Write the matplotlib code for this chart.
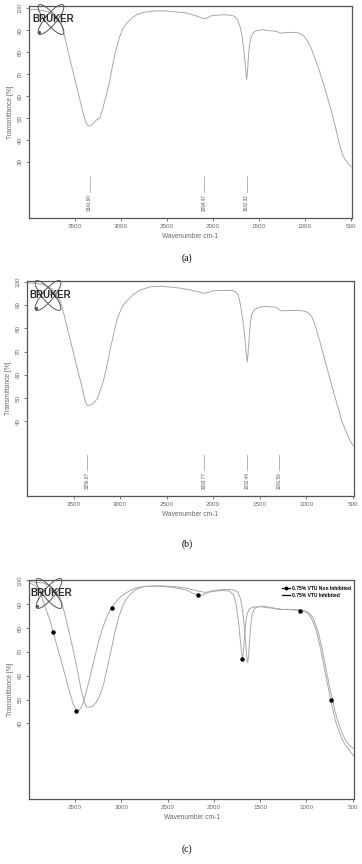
import matplotlib
matplotlib.use("Agg")
import matplotlib.pyplot as plt
from matplotlib.patches import Ellipse
from matplotlib.lines import Line2D

plt.rcParams['font.family'] = ['Liberation Sans', 'DejaVu Sans']

# ---- panel (a) spectrum ----
wn_a = [3995, 3900, 3800, 3720, 3680, 3650, 3600, 3550, 3500, 3450, 3410, 3380, 3360, 3341,
        3300, 3270, 3230, 3200, 3160, 3120, 3095, 3060, 3018, 2980, 2940, 2880, 2830, 2760,
        2690, 2600, 2503, 2400, 2285, 2200, 2140, 2094, 2060, 2020, 1956, 1880, 1800, 1760,
        1726, 1700, 1682, 1665, 1650, 1640, 1632, 1622, 1612, 1600, 1585, 1565, 1540, 1500,
        1452, 1400, 1340, 1300, 1270, 1250, 1200, 1140, 1080, 1040, 1014, 980, 937, 900, 860,
        828, 780, 740, 718, 685, 660, 630, 608, 580, 550, 520, 495]
t_a = [99.5, 99.3, 98.5, 96.5, 94.5, 93.5, 85, 76, 67.5, 59, 52, 48, 46.6, 46.3,
       47.5, 49, 50, 54, 60, 67, 73, 80, 86.5, 90.5, 93, 95.5, 97, 98,
       98.5, 98.8, 98.7, 98.3, 97.8, 96.8, 95.8, 95.3, 95.5, 96.5, 96.8, 97, 96.8, 96.2,
       94.5, 91, 87.5, 82, 76, 71, 67.5, 71, 78, 83.5, 86.5, 88.5, 89.5, 90,
       90.2, 89.8, 89.6, 89.4, 88.7, 88.7, 88.9, 89, 88.9, 88.3, 87.5, 85.8, 82.5, 78.5, 74,
       70, 63.5, 57.5, 54.5, 49, 45, 39.5, 36, 32.5, 30.5, 29, 27.8]
peaks_a = [3341.60, 2094.47, 1632.32]

# ---- panel (b) spectrum ----
wn_b = [3995, 3900, 3800, 3720, 3680, 3640, 3600, 3560, 3532, 3480, 3425, 3390, 3370, 3356,
        3330, 3300, 3260, 3243, 3210, 3178, 3140, 3103, 3060, 3028, 2995, 2964, 2910, 2857,
        2780, 2675, 2550, 2450, 2350, 2250, 2170, 2120, 2093, 2060, 2000, 1957, 1880, 1785,
        1760, 1731, 1705, 1678, 1660, 1645, 1632, 1622, 1610, 1598, 1580, 1555, 1530, 1500,
        1464, 1400, 1340, 1314, 1292, 1270, 1200, 1100, 1040, 992, 960, 938, 900, 853, 800,
        746, 700, 660, 640, 620, 590, 564, 530, 500, 490]
t_b = [99.5, 99.3, 98.5, 96.5, 94, 91.5, 85.5, 79, 74.5, 66, 57.4, 51.5, 48.5, 47,
       46.8, 47.5, 49, 50, 53.5, 57.5, 64, 71.5, 79, 84.3, 87.5, 90, 92.5, 94.5,
       96.5, 97.8, 98, 97.7, 97.2, 96.5, 95.8, 95.2, 95, 95.3, 96, 96.2, 96.3, 96.2,
       95.6, 94.5, 90, 83, 76.5, 70, 65.5, 70, 77, 83, 86.5, 88, 88.5, 89,
       89.4, 89.3, 89.1, 89, 88, 87.5, 87.6, 87.7, 87.5, 87, 86, 85, 81, 74.5, 66.5,
       58.7, 52, 46.5, 44, 40.5, 37.5, 35, 32, 30, 29.5]
peaks_b = [3356.67, 2093.77, 1632.44, 1291.59]

# ---- panel (c) two spectra ----
wn_non = [3995, 3940, 3880, 3830, 3780, 3739, 3700, 3650, 3600, 3560, 3520, 3489, 3460, 3430,
          3400, 3350, 3300, 3250, 3200, 3150, 3107, 3050, 3000, 2920, 2850, 2750, 2600, 2450,
          2300, 2220, 2168, 2120, 2060, 2000, 1900, 1830, 1790, 1760, 1735, 1715, 1700, 1692,
          1682, 1670, 1655, 1640, 1620, 1580, 1500, 1420, 1340, 1280, 1200, 1120, 1067, 1020,
          990, 950, 900, 850, 800, 760, 738, 700, 685, 650, 610, 570, 530, 500, 490]
t_non = [99, 98, 95, 89.5, 84, 78.5, 73, 66, 59, 53, 48, 45.5, 45.5, 47,
         50.5, 58, 66, 74, 80.5, 85.5, 88.5, 91.5, 93.5, 95.5, 96.8, 97.5, 97.6, 97.2,
         96, 94.5, 93.75, 94, 95, 95.5, 95.8, 95.5, 94, 90, 83, 75, 69.5, 67,
         69.5, 76, 82.5, 86, 88, 88.8, 89, 88.6, 88.2, 87.8, 87.9, 87.6, 87.4, 87,
         86.3, 84.5, 80, 72, 62, 54.3, 50, 43.5, 41, 37, 33, 30.5, 28.5, 27, 26.5]
wn_inh = [3995, 3850, 3760, 3700, 3660, 3620, 3570, 3520, 3470, 3430, 3400, 3382, 3350, 3310,
          3270, 3230, 3190, 3150, 3110, 3070, 3030, 2990, 2950, 2900, 2830, 2750, 2600, 2450,
          2300, 2200, 2120, 2090, 2040, 1960, 1850, 1780, 1740, 1710, 1690, 1670, 1655, 1645,
          1635, 1625, 1612, 1600, 1585, 1565, 1540, 1480, 1400, 1320, 1250, 1150, 1060, 1000,
          960, 930, 880, 830, 780, 740, 715, 690, 660, 620, 580, 540, 500, 490]
t_inh = [99.5, 99, 97.5, 95, 92.5, 87, 79, 70.5, 61, 53, 49, 47, 46.8, 47.3,
         49, 52, 57, 64, 71, 78.5, 84.5, 89, 92, 94.5, 96.5, 97.5, 97.8, 97.5,
         96.8, 95.8, 95.2, 95, 95.5, 96, 96.3, 96, 95, 92, 87.5, 80, 73, 68,
         65.4, 68.5, 76, 82, 86, 88, 88.8, 89.2, 88.8, 88.2, 87.8, 87.8, 87.5, 87,
         86, 84.5, 79.5, 71.5, 61.5, 53.5, 50, 45, 41, 36.5, 33.3, 31, 29.8, 29.5]
mk_wn = [3739, 3489, 3107, 2168, 1692, 1067, 738]
mk_t = [78.5, 45.4, 88.5, 93.75, 67, 87.4, 49.9]

W, H = 362, 864
xticks = [3500, 3000, 2500, 2000, 1500, 1000, 500]
line_col = '#a8a8a8'
spine_col = '#555555'
tick_col = '#666666'

fig = plt.figure(figsize=(W / 100, H / 100), dpi=100)


def px_axes(x0, y0, x1, y1):
    return fig.add_axes([x0 / W, 1 - y1 / H, (x1 - x0) / W, (y1 - y0) / H])


def style(ax, ylim, yticks, cap, cap_y):
    ax.set_xlim(4000, 485)
    ax.set_ylim(*ylim)
    ax.set_xticks(xticks)
    ax.set_yticks(yticks)
    ax.set_yticklabels([str(v) for v in yticks], rotation=90, va='center')
    ax.tick_params(labelsize=4.5, colors=tick_col, length=2.5, width=0.6, pad=2)
    for s in ax.spines.values():
        s.set_color(spine_col)
        s.set_linewidth(0.9)
    ax.set_ylabel('Transmittance [%]', fontsize=4.8, color=tick_col, labelpad=3)
    ax.set_xlabel('Wavenumber cm-1', fontsize=4.8, color=tick_col, labelpad=3)
    fig.text(187 / W, 1 - cap_y / H, cap, ha='center', va='center',
             fontsize=7, family='Liberation Serif')


def logo(cx, cy):
    # cx, cy: pixel centre of the BRUKER word
    la = fig.add_axes([(cx - 26) / W, 1 - (cy + 18) / H, 52 / W, 36 / H])
    la.set_xlim(-26, 26)
    la.set_ylim(-18, 18)
    la.axis('off')
    for ang in (50, -50):
        la.add_patch(Ellipse((-2, -0.5), 38, 11, angle=ang, fill=False,
                             ec='#555555', lw=0.7))
    la.plot([-14], [-13], 'o', ms=1.3, color='#555555')
    la.text(0, 0, 'BRUKER', ha='center', va='center', fontsize=7,
            fontweight='bold', color='#2a2a2a')


def peak_marks(ax, peaks, y_top, y_bot):
    for p in peaks:
        ax.plot([p, p], [y_top, y_bot], color='#999999', lw=0.5)
        ax.text(p, y_bot - 1.0, f'{p:.2f}', rotation=90, ha='center', va='top',
                fontsize=3.3, color='#555555')


# (a)
ax1 = px_axes(29, 6, 352, 218)
ax1.plot(wn_a, t_a, color=line_col, lw=0.7)
peak_marks(ax1, peaks_a, 23.6, 16.4)
style(ax1, (4.5, 101), [30, 40, 50, 60, 70, 80, 90, 100], '(a)', 258)
logo(53, 19)

# (b)
ax2 = px_axes(27, 281, 354, 496)
ax2.plot(wn_b, t_b, color=line_col, lw=0.7)
peak_marks(ax2, peaks_b, 25.5, 19.1)
style(ax2, (8, 100.3), [40, 50, 60, 70, 80, 90, 100], '(b)', 544)
logo(50, 295)

# (c)
ax3 = px_axes(29, 580, 354, 799)
ax3.plot(wn_non, t_non, color=line_col, lw=0.7)
ax3.plot(wn_inh, t_inh, color=line_col, lw=0.7)
ax3.plot(mk_wn, mk_t, 'o', ms=2.2, color='black', ls='none')
style(ax3, (8.3, 100.2), [40, 50, 60, 70, 80, 90, 100], '(c)', 849)
logo(51, 593)
handles = [Line2D([], [], color='black', lw=0.9, marker='o', ms=1.8),
           Line2D([], [], color='black', lw=0.9)]
ax3.legend(handles, ['0.75% VTU Non Inhibited', '0.75% VTU Inhibited'],
           loc='upper right', bbox_to_anchor=(1.0, 0.99), frameon=False,
           prop={'size': 3.6, 'weight': 'bold'}, handlelength=1.6,
           handletextpad=0.4, labelspacing=0.4, borderaxespad=0.3)

fig.savefig('out.png', dpi=100)
